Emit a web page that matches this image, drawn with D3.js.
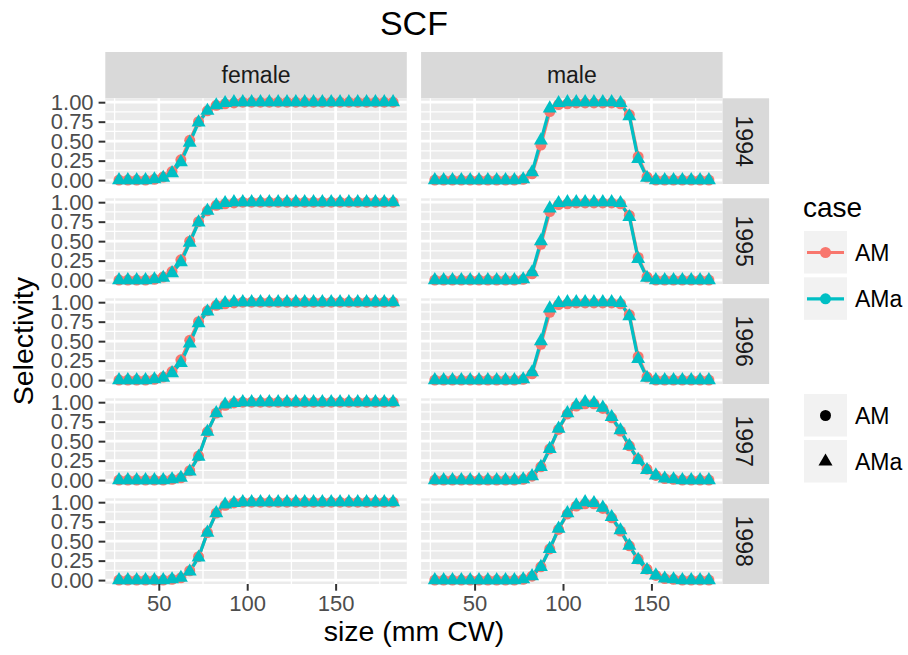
<!DOCTYPE html>
<html><head><meta charset="utf-8">
<script src="https://cdnjs.cloudflare.com/ajax/libs/d3/7.8.5/d3.min.js"></script>
<style>
html,body{margin:0;padding:0;background:#fff;}
text{font-family:"Liberation Sans",Arial,Helvetica,sans-serif;}
</style></head>
<body><svg id="chart" width="908" height="655"></svg>
<script>
// ---------------- data ----------------
const sizes = [27.5,32.5,37.5,42.5,47.5,52.5,57.5,62.5,67.5,72.5,77.5,82.5,87.5,92.5,97.5,102.5,107.5,112.5,117.5,122.5,127.5,132.5,137.5,142.5,147.5,152.5,157.5,162.5,167.5,172.5,177.5,182.5];
const sexes = ["female","male"];
const years = ["1994","1995","1996","1997","1998"];
const cases = ["AM","AMa"];
const caseColors = ["#F8766D","#00BFC4"];

// female
const female1994_AM  = [0,0,0,0,0.01,0.04,0.11,0.26,0.51,0.75,0.89,0.96,0.98,0.99,1,1,1,1,1,1,1,1,1,1,1,1,1,1,1,1,1,1];
const female1994_AMa = [0,0,0,0,0.01,0.03,0.09,0.23,0.48,0.74,0.89,0.96,0.99,1,1,1,1,1,1,1,1,1,1,1,1,1,1,1,1,1,1,1];
const female1995_AM  = [0,0,0,0,0.01,0.04,0.11,0.26,0.50,0.75,0.89,0.96,0.98,0.99,1,1,1,1,1,1,1,1,1,1,1,1,1,1,1,1,1,1];
const female1995_AMa = [0,0,0,0,0.01,0.03,0.09,0.23,0.48,0.74,0.89,0.96,0.99,1,1,1,1,1,1,1,1,1,1,1,1,1,1,1,1,1,1,1];
const female1996_AM  = [0,0,0,0,0.01,0.04,0.11,0.26,0.51,0.75,0.89,0.96,0.98,0.99,1,1,1,1,1,1,1,1,1,1,1,1,1,1,1,1,1,1];
const female1996_AMa = [0,0,0,0,0.01,0.03,0.09,0.22,0.47,0.73,0.88,0.96,0.99,1,1,1,1,1,1,1,1,1,1,1,1,1,1,1,1,1,1,1];
const female1997_AM  = [0,0,0,0,0,0,0.01,0.03,0.12,0.31,0.62,0.86,0.96,0.99,1,1,1,1,1,1,1,1,1,1,1,1,1,1,1,1,1,1];
const female1997_AMa = [0,0,0,0,0,0,0.01,0.03,0.11,0.30,0.62,0.86,0.97,0.99,1,1,1,1,1,1,1,1,1,1,1,1,1,1,1,1,1,1];
const female1998_AM  = [0,0,0,0,0,0,0.01,0.03,0.12,0.30,0.61,0.86,0.96,0.99,1,1,1,1,1,1,1,1,1,1,1,1,1,1,1,1,1,1];
const female1998_AMa = [0,0,0,0,0,0,0.01,0.03,0.11,0.29,0.61,0.86,0.97,0.99,1,1,1,1,1,1,1,1,1,1,1,1,1,1,1,1,1,1];
// male
const male1994_AM  = [0,0,0,0,0,0,0,0,0,0,0.01,0.08,0.45,0.88,0.97,0.98,0.99,0.99,0.99,0.99,0.99,0.98,0.84,0.30,0.04,0,0,0,0,0,0,0];
const male1994_AMa = [0,0,0,0,0,0,0,0,0,0,0.01,0.10,0.51,0.92,0.99,1,1,1,1,1,1,0.99,0.82,0.27,0.03,0,0,0,0,0,0,0];
const male1995_AM  = [0,0,0,0,0,0,0,0,0,0,0.01,0.08,0.46,0.88,0.97,0.98,0.99,0.99,0.99,0.99,0.99,0.98,0.83,0.29,0.04,0,0,0,0,0,0,0];
const male1995_AMa = [0,0,0,0,0,0,0,0,0,0,0.01,0.10,0.50,0.92,0.99,1,1,1,1,1,1,0.99,0.81,0.27,0.03,0,0,0,0,0,0,0];
const male1996_AM  = [0,0,0,0,0,0,0,0,0,0,0.01,0.08,0.46,0.87,0.97,0.98,0.99,0.99,0.99,0.99,0.99,0.98,0.84,0.30,0.04,0,0,0,0,0,0,0];
const male1996_AMa = [0,0,0,0,0,0,0,0,0,0,0.01,0.10,0.50,0.92,0.99,1,1,1,1,1,1,0.99,0.82,0.27,0.03,0,0,0,0,0,0,0];
const male1997_AM  = [0,0,0,0,0,0,0,0,0,0,0.01,0.05,0.17,0.40,0.65,0.85,0.95,0.98,0.98,0.92,0.80,0.63,0.44,0.27,0.14,0.06,0.02,0.01,0,0,0,0];
const male1997_AMa = [0,0,0,0,0,0,0,0,0,0,0.01,0.05,0.17,0.40,0.66,0.86,0.96,1.00,0.99,0.93,0.81,0.64,0.44,0.26,0.13,0.06,0.02,0.01,0,0,0,0];
const male1998_AM  = [0,0,0,0,0,0,0,0,0,0,0.01,0.05,0.17,0.40,0.65,0.85,0.95,0.98,0.98,0.92,0.80,0.63,0.44,0.27,0.14,0.06,0.02,0.01,0,0,0,0];
const male1998_AMa = [0,0,0,0,0,0,0,0,0,0,0.01,0.05,0.17,0.40,0.66,0.86,0.96,1.00,0.99,0.93,0.81,0.64,0.44,0.26,0.13,0.06,0.02,0.01,0,0,0,0];

const xMajorTicks = [50,100,150];
const xMinorTicks = [25,75,125,175];
const yMajorTicks = [0,0.25,0.5,0.75,1];
const yMinorTicks = [0.125,0.375,0.625,0.875];

const series = {
  female:{"1994":[female1994_AM,female1994_AMa],"1995":[female1995_AM,female1995_AMa],"1996":[female1996_AM,female1996_AMa],"1997":[female1997_AM,female1997_AMa],"1998":[female1998_AM,female1998_AMa]},
  male:{"1994":[male1994_AM,male1994_AMa],"1995":[male1995_AM,male1995_AMa],"1996":[male1996_AM,male1996_AMa],"1997":[male1997_AM,male1997_AMa],"1998":[male1998_AM,male1998_AMa]}
};

// ---------------- layout ----------------
const svg = d3.select("#chart");
const panelLeft0 = 105.3, panelW = 301.5, colGap = 14.3;
const panelTop0 = 98.3, panelH = 85.7, rowStep = 100;
const stripH = 46.3, stripW = 46.5;
const xMin = 27.5, xMax = 182.5, xPad = (xMax - xMin) * 0.05;
const fontFam = '"Liberation Sans",Arial,Helvetica,sans-serif';

const colorScale = d3.scaleOrdinal().domain(cases).range(caseColors);
const circleSym = d3.symbol().type(d3.symbolCircle).size(95);
const triSym = d3.symbol().type(d3.symbolTriangle).size(85);

// title
svg.append("text").attr("x", panelLeft0 + (2*panelW + colGap)/2).attr("y", 35)
  .attr("text-anchor","middle").attr("font-size",34).attr("fill","#000").text("SCF");

sexes.forEach((sex, ci) => {
  const px0 = panelLeft0 + ci*(panelW + colGap);
  const x = d3.scaleLinear().domain([xMin - xPad, xMax + xPad]).range([px0, px0 + panelW]);
  // top strip
  svg.append("rect").attr("x", px0).attr("y", panelTop0 - stripH).attr("width", panelW).attr("height", stripH).attr("fill","#D9D9D9");
  svg.append("text").attr("x", px0 + panelW/2).attr("y", panelTop0 - stripH/2 + 8)
    .attr("text-anchor","middle").attr("font-size",23).attr("fill","#1A1A1A").text(sex);

  years.forEach((yr, ri) => {
    const py0 = panelTop0 + ri*rowStep;
    const y = d3.scaleLinear().domain([-0.05, 1.05]).range([py0 + panelH, py0]);
    const g = svg.append("g");
    g.append("rect").attr("x", px0).attr("y", py0).attr("width", panelW).attr("height", panelH).attr("fill","#EBEBEB");
    // minor grid
    g.selectAll(".gmx").data(xMinorTicks).join("line").attr("x1", d=>x(d)).attr("x2", d=>x(d)).attr("y1", py0).attr("y2", py0+panelH).attr("stroke","#fff").attr("stroke-width",1.35);
    g.selectAll(".gmy").data(yMinorTicks).join("line").attr("y1", d=>y(d)).attr("y2", d=>y(d)).attr("x1", px0).attr("x2", px0+panelW).attr("stroke","#fff").attr("stroke-width",1.35);
    // major grid
    g.selectAll(".gMx").data(xMajorTicks).join("line").attr("x1", d=>x(d)).attr("x2", d=>x(d)).attr("y1", py0).attr("y2", py0+panelH).attr("stroke","#fff").attr("stroke-width",2.7);
    g.selectAll(".gMy").data(yMajorTicks).join("line").attr("y1", d=>y(d)).attr("y2", d=>y(d)).attr("x1", px0).attr("x2", px0+panelW).attr("stroke","#fff").attr("stroke-width",2.7);

    const vals = series[sex][yr];
    const line = d3.line().x((d,i)=>x(sizes[i])).y(d=>y(d));
    vals.forEach((v, k) => {
      g.append("path").attr("d", line(v)).attr("fill","none").attr("stroke", colorScale(cases[k])).attr("stroke-width",3.2).attr("stroke-linejoin","round");
    });
    vals.forEach((v, k) => {
      g.selectAll(null).data(v).join("path")
        .attr("transform", (d,i)=>`translate(${x(sizes[i])},${y(d)})`)
        .attr("d", k === 0 ? circleSym() : triSym())
        .attr("fill", colorScale(cases[k]));
    });

    // right strip
    if (ci === 1) {
      const sx = px0 + panelW;
      svg.append("rect").attr("x", sx).attr("y", py0).attr("width", stripW).attr("height", panelH).attr("fill","#D9D9D9");
      svg.append("text").attr("transform", `translate(${sx + stripW/2 - 10},${py0 + panelH/2}) rotate(90)`)
        .attr("text-anchor","middle").attr("font-size",23).attr("fill","#1A1A1A").text(yr);
    }
    // y axis
    if (ci === 0) {
      const ax = svg.append("g").attr("transform", `translate(${px0},0)`)
        .call(d3.axisLeft(y).tickValues(yMajorTicks).tickFormat(d3.format(".2f")).tickSize(6.7).tickPadding(5));
      ax.select(".domain").remove();
      ax.selectAll("line").attr("stroke","#333").attr("stroke-width",2);
      ax.selectAll("text").attr("font-size",22).attr("fill","#4D4D4D").attr("font-family",fontFam);
    }
    // x axis
    if (ri === years.length - 1) {
      const ax = svg.append("g").attr("transform", `translate(0,${py0 + panelH})`)
        .call(d3.axisBottom(x).tickValues(xMajorTicks).tickFormat(d3.format("d")).tickSize(6.7).tickPadding(5));
      ax.select(".domain").remove();
      ax.selectAll("line").attr("stroke","#333").attr("stroke-width",2);
      ax.selectAll("text").attr("font-size",22).attr("fill","#4D4D4D").attr("font-family",fontFam);
    }
  });
});

// axis titles
const plotBottom = panelTop0 + 4*rowStep + panelH;
svg.append("text").attr("x", panelLeft0 + (2*panelW + colGap)/2).attr("y", 641)
  .attr("text-anchor","middle").attr("font-size",28.5).attr("fill","#000").text("size (mm CW)");
svg.append("text").attr("transform", `translate(33,${(panelTop0 + plotBottom)/2}) rotate(-90)`)
  .attr("text-anchor","middle").attr("font-size",28.5).attr("fill","#000").text("Selectivity");

// legends
const lg = svg.append("g");
lg.append("text").attr("x", 803).attr("y", 217).attr("font-size",28).attr("fill","#000").text("case");
const keyX = 804, keyS = 43;
const colorKeyY = [231, 277.3];
const shapeKeyY = [394, 440];
cases.forEach((c, k) => {
  const ky = colorKeyY[k];
  lg.append("rect").attr("x", keyX).attr("y", ky).attr("width", keyS).attr("height", keyS-0.5).attr("fill","#F2F2F2");
  lg.append("line").attr("x1", keyX+3).attr("x2", keyX+keyS-3).attr("y1", ky+keyS/2).attr("y2", ky+keyS/2).attr("stroke", colorScale(c)).attr("stroke-width",3.2);
  lg.append("path").attr("transform", `translate(${keyX+keyS/2},${ky+keyS/2})`).attr("d", circleSym()).attr("fill", colorScale(c));
  lg.append("text").attr("x", 855).attr("y", ky+keyS/2+8).attr("font-size",23).attr("fill","#000").text(c);

  const sy = shapeKeyY[k];
  lg.append("rect").attr("x", keyX).attr("y", sy).attr("width", keyS).attr("height", keyS-0.5).attr("fill","#F2F2F2");
  lg.append("path").attr("transform", `translate(${keyX+keyS/2},${sy+keyS/2})`).attr("d", k===0 ? circleSym() : triSym()).attr("fill", "#000");
  lg.append("text").attr("x", 855).attr("y", sy+keyS/2+8).attr("font-size",23).attr("fill","#000").text(c);
});
</script></body></html>
